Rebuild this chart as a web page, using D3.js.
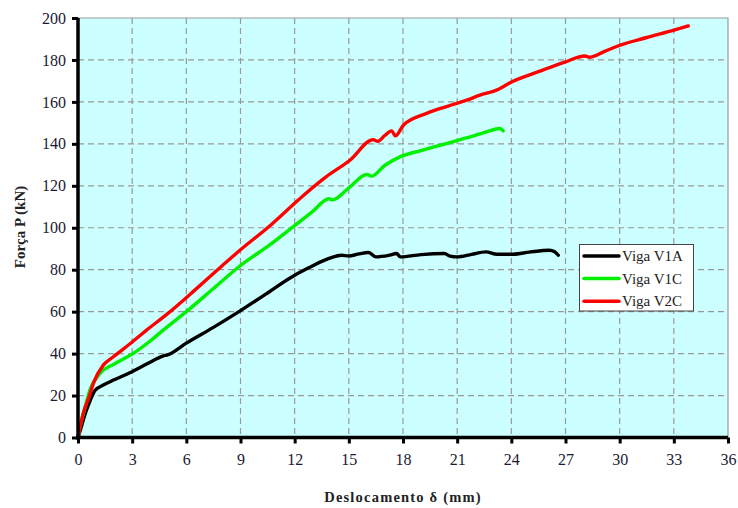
<!DOCTYPE html>
<html><head><meta charset="utf-8">
<script src="https://cdn.jsdelivr.net/npm/d3@7"></script>
<style>body{margin:0;background:#fff}svg{display:block}</style>
</head><body>
<svg id="c" width="738" height="508"></svg>
<script>
const xTicks = [0,3,6,9,12,15,18,21,24,27,30,33,36];
const yTicks = [0,20,40,60,80,100,120,140,160,180,200];
const seriesNames = ["Viga V1A","Viga V1C","Viga V2C"];
const seriesColors = ["#000000","#00f000","#ff0000"];
const v1a = [[0,0],[0.15,4],[0.35,10],[0.6,16],[0.95,22.5],[1.4,25],[2.0,27.5],[2.9,31],[3.8,35],[4.7,38.8],[5.0,39.5],[6.0,45],[7.5,52.5],[9.0,60.5],[10.6,69.5],[11.7,75.8],[12.8,81],[13.8,85],[14.6,86.9],[15.0,86.5],[15.5,87.4],[16.1,88.2],[16.5,86.1],[17.2,86.8],[17.65,87.7],[17.85,86.1],[19.0,87.2],[20.3,87.7],[20.6,86.5],[21.0,86.1],[21.8,87.3],[22.6,88.5],[23.2,87.4],[24.1,87.4],[25.0,88.4],[26.1,89.3],[26.4,88.6],[26.6,86.9]];
const v1c = [[0,0],[0.11,5],[0.35,13],[0.66,22.6],[1.22,30.6],[2.0,35],[3.06,40.1],[4.0,46],[4.72,51.2],[6.0,60],[7.5,71],[9.0,82],[10.6,91.7],[12.0,101],[13.0,107.8],[13.9,113.8],[14.1,113.3],[15.0,119],[16.0,125.4],[16.25,124.6],[17.0,129.8],[17.83,133.8],[19.0,136.8],[20.04,139.3],[21.5,142.8],[22.6,145.6],[23.37,147.3],[23.55,146.2]];
const v2c = [[0,0],[0.29,11.5],[0.6,19],[0.85,25.8],[1.4,34.5],[1.96,38.5],[2.9,44.8],[3.8,51.2],[5.0,59.3],[6.5,70.5],[8.0,82],[9.0,89.5],[10.5,100],[12.39,114.7],[13.7,124],[15.06,132.2],[16.35,142],[16.6,141.2],[17.0,144],[17.37,146.2],[17.58,143.8],[18.02,148.9],[19.31,154.5],[20.5,158],[21.52,160.8],[22.26,163.2],[23.18,165.6],[24.01,169.5],[25.5,174.4],[26.97,179],[28.07,181.9],[28.35,181.3],[29.2,184.2],[30.01,187],[31.5,190.7],[32.96,194.1],[33.8,196.2]];
const allSeries = [v1a, v1c, v2c];

const svg = d3.select("#c");
const L = 78, R = 728, T = 18, B = 437.5;
const x = d3.scaleLinear().domain([0,36]).range([L,R]);
const y = d3.scaleLinear().domain([0,200]).range([B,T]);

svg.append("rect").attr("x",L).attr("y",T).attr("width",R-L).attr("height",B-T).attr("fill","#ccffff");

const grid = svg.append("g").attr("stroke","#999").attr("stroke-width",1.2).attr("stroke-dasharray","6,4");
xTicks.slice(1,-1).forEach(t=>grid.append("line").attr("x1",x(t)).attr("x2",x(t)).attr("y1",T).attr("y2",B));
yTicks.slice(1,-1).forEach(t=>grid.append("line").attr("x1",L).attr("x2",R).attr("y1",y(t)).attr("y2",y(t)));

svg.append("path").attr("d",`M${L},${T}H${R}V${B}`).attr("fill","none").attr("stroke","#999").attr("stroke-width",1.2);

const line = d3.line().x(d=>x(d[0])).y(d=>y(d[1])).curve(d3.curveMonotoneX);
allSeries.forEach((s,i)=>{
  svg.append("path").datum(s).attr("d",line).attr("fill","none").attr("stroke",seriesColors[i]).attr("stroke-width",3.4).attr("stroke-linejoin","round").attr("stroke-linecap","round");
});

const xAxis = svg.append("g").attr("transform",`translate(0,${B})`)
  .call(d3.axisBottom(x).tickValues(xTicks).tickSize(6).tickPadding(10));
const yAxis = svg.append("g").attr("transform",`translate(${L},0)`)
  .call(d3.axisLeft(y).tickValues(yTicks).tickSize(6).tickPadding(6));
[xAxis,yAxis].forEach(a=>{
  a.select(".domain").attr("stroke","#000").attr("stroke-width",3.5);
  a.selectAll(".tick line").attr("stroke","#000").attr("stroke-width",3);
  a.selectAll("text").attr("font-family","Liberation Serif, serif").attr("font-size",16).attr("fill","#1a1a33");
});
xAxis.select(".domain").attr("d",`M${L-2},0H${R}`);
yAxis.select(".domain").attr("d",`M0,${T}V${B+2}`);

svg.append("text").attr("x",403).attr("y",502).attr("text-anchor","middle")
  .attr("font-family","Liberation Serif, serif").attr("font-weight","bold").attr("font-size",14.5)
  .attr("letter-spacing","1.2px").attr("fill","#222").text("Deslocamento δ  (mm)");
svg.append("text").attr("transform","translate(25,227) rotate(-90)").attr("text-anchor","middle")
  .attr("font-family","Liberation Serif, serif").attr("font-weight","bold").attr("font-size",15)
  .attr("fill","#222").text("Força P (kN)");

const lg = svg.append("g");
lg.append("rect").attr("x",579.5).attr("y",244.5).attr("width",114).attr("height",66.5)
  .attr("fill","#fff").attr("stroke","#444").attr("stroke-width",1);
seriesNames.forEach((n,i)=>{
  const yy = 256 + i*22.6;
  lg.append("line").attr("x1",584).attr("x2",619).attr("y1",yy).attr("y2",yy)
    .attr("stroke",seriesColors[i]).attr("stroke-width",3.5).attr("stroke-linecap","round");
  lg.append("text").attr("x",622).attr("y",yy+5).attr("font-family","Liberation Serif, serif")
    .attr("font-size",15).attr("fill","#222").text(n);
});
</script>
</body></html>
